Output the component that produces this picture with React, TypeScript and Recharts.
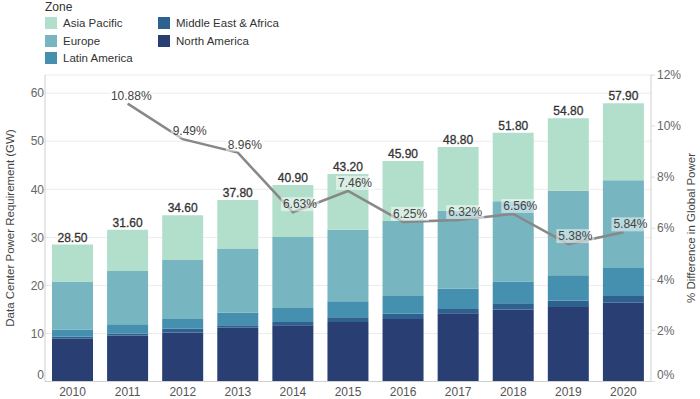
import React from "react";
import {
  Bar,
  CartesianGrid,
  ComposedChart,
  LabelList,
  Line,
  XAxis,
  YAxis,
} from "recharts";

const years = ["2010", "2011", "2012", "2013", "2014", "2015", "2016", "2017", "2018", "2019", "2020"];
const northAmerica = [8.9, 9.6, 10.2, 11.2, 11.7, 12.4, 13.0, 14.2, 15.0, 15.5, 16.4];
const middleEastAfrica = [0.4, 0.4, 0.8, 0.5, 0.7, 1.0, 1.1, 0.9, 1.3, 1.3, 1.4];
const latinAmerica = [1.5, 1.9, 2.0, 2.6, 2.9, 3.3, 3.7, 4.2, 4.5, 5.3, 5.8];
const europe = [10.0, 11.1, 12.3, 13.3, 14.8, 14.9, 15.7, 16.3, 16.7, 17.6, 18.3];
const asiaPacific = [7.7, 8.6, 9.3, 10.2, 10.8, 11.6, 12.4, 13.2, 14.3, 15.1, 16.0];
const totals = [28.5, 31.6, 34.6, 37.8, 40.9, 43.2, 45.9, 48.8, 51.8, 54.8, 57.9];
const pctDiff: (number | null)[] = [null, 10.88, 9.49, 8.96, 6.63, 7.46, 6.25, 6.32, 6.56, 5.38, 5.84];

const gwTicks = [0, 10, 20, 30, 40, 50, 60];
const pctTicks = [0, 2, 4, 6, 8, 10, 12];

const COLORS = {
  asia: "#b2dfcc",
  europe: "#77b5c1",
  latam: "#4590ae",
  mea: "#2f6190",
  na: "#293f73",
};

const FONT = '"Liberation Sans", Arial, sans-serif';

const rows = years.map((year, i) => ({
  year,
  na: northAmerica[i],
  mea: middleEastAfrica[i],
  latam: latinAmerica[i],
  europe: europe[i],
  asia: asiaPacific[i],
  total: totals[i],
  pct: pctDiff[i],
}));

const legendItems = [
  { label: "Asia Pacific", color: COLORS.asia },
  { label: "Europe", color: COLORS.europe },
  { label: "Latin America", color: COLORS.latam },
  { label: "Middle East & Africa", color: COLORS.mea },
  { label: "North America", color: COLORS.na },
];

function LeftTick({ x, y, payload }: any) {
  return (
    <text x={x} y={y} dx={6} dy={payload.value === 0 ? "-0.2em" : "0.35em"} textAnchor="end" fontSize={12} fill="#666">
      {payload.value}
    </text>
  );
}

function RightTick({ x, y, payload }: any) {
  return (
    <text x={x} y={y} dy={payload.value === 0 ? "-0.2em" : "0.35em"} textAnchor="start" fontSize={12} fill="#666">
      {payload.value}%
    </text>
  );
}

function YearTick({ x, y, payload }: any) {
  return (
    <text x={x} y={y} dy="0.35em" textAnchor="middle" fontSize={12} fill="#555">
      {payload.value}
    </text>
  );
}

function TotalLabel({ x, y, width, value }: any) {
  return (
    <text
      x={x + width / 2}
      y={y - 3}
      textAnchor="middle"
      fontSize={12}
      fill="#333"
      stroke="#333"
      strokeWidth={0.3}
    >
      {Number(value).toFixed(2)}
    </text>
  );
}

function PctLabel({ x, y, value }: any) {
  if (value == null) return null;
  const text = `${Number(value).toFixed(2)}%`;
  const w = (text.length - 2) * 6.67 + 3.33 + 10.67;
  const right = x + 24;
  return (
    <g>
      <rect x={right - w - 2} y={y - 15} width={w + 4} height={14} fill="#fff" fillOpacity={0.5} />
      <text x={right} y={y - 4} textAnchor="end" fontSize={12} fill="#444">
        {text}
      </text>
    </g>
  );
}

function AxisTitle({ viewBox, value, dx }: any) {
  const cx = viewBox.x + dx;
  const cy = 228;
  return (
    <text x={cx} y={cy} transform={`rotate(-90 ${cx} ${cy})`} textAnchor="middle" dy="0.35em" fontSize={11.5} fill="#444">
      {value}
    </text>
  );
}

function ZoneLegend() {
  return (
    <div style={{ position: "absolute", left: 45, top: 0, fontSize: 11.5, color: "#333" }}>
      <div style={{ position: "absolute", left: 0, top: 0, fontSize: 12, color: "#333", whiteSpace: "nowrap" }}>Zone</div>
      {legendItems.map((item, i) => {
        const col = i < 3 ? 0 : 1;
        const row = i < 3 ? i : i - 3;
        return (
          <div
            key={item.label}
            style={{
              position: "absolute",
              left: col * 113,
              top: 17 + row * 17.6,
              display: "flex",
              alignItems: "center",
              whiteSpace: "nowrap",
            }}
          >
            <span style={{ display: "inline-block", width: 12, height: 12, background: item.color, marginRight: 6 }} />
            <span style={{ lineHeight: "12px" }}>{item.label}</span>
          </div>
        );
      })}
    </div>
  );
}

export default function App() {
  return (
    <div style={{ position: "absolute", left: 0, top: 0, width: 700, height: 399, fontFamily: FONT, background: "#fff" }}>
      <ZoneLegend />
      <ComposedChart
        width={700}
        height={399}
        data={rows}
        margin={{ top: 75, right: 4, bottom: 0, left: 15 }}
        barSize={41}
        style={{ fontFamily: FONT }}
      >
        <CartesianGrid vertical={false} stroke="#ececec" />
        <XAxis
          dataKey="year"
          tick={<YearTick />}
          tickLine={false}
          axisLine={{ stroke: "#cfcfcf" }}
          height={17.5}
          tickMargin={4}
          interval={0}
        />
        <XAxis xAxisId="top" orientation="top" dataKey="year" tick={false} tickLine={false} axisLine={{ stroke: "#cfcfcf" }} height={0} />
        <YAxis
          width={30}
          domain={[0, 63.8]}
          ticks={gwTicks}
          tick={<LeftTick />}
          tickLine={false}
          tickMargin={1}
          axisLine={{ stroke: "#cfcfcf" }}
          allowDataOverflow
          label={<AxisTitle value="Data Center Power Requirement (GW)" dx={-5} />}
        />
        <YAxis
          yAxisId="right"
          orientation="right"
          width={45}
          domain={[0, 12]}
          ticks={pctTicks}
          tick={<RightTick />}
          tickSize={4}
          tickLine={{ stroke: "#dcdcdc" }}
          tickMargin={2}
          axisLine={{ stroke: "#cfcfcf" }}
          label={<AxisTitle value="% Difference in Global Power" dx={40} />}
        />
        <Bar dataKey="na" stackId="zone" fill={COLORS.na} isAnimationActive={false} />
        <Bar dataKey="mea" stackId="zone" fill={COLORS.mea} isAnimationActive={false} />
        <Bar dataKey="latam" stackId="zone" fill={COLORS.latam} isAnimationActive={false} />
        <Bar dataKey="europe" stackId="zone" fill={COLORS.europe} isAnimationActive={false} />
        <Bar dataKey="asia" stackId="zone" fill={COLORS.asia} isAnimationActive={false}>
          <LabelList dataKey="total" content={<TotalLabel />} />
        </Bar>
        <Line
          yAxisId="right"
          dataKey="pct"
          stroke="#888"
          strokeWidth={2.5}
          dot={false}
          isAnimationActive={false}
        >
          <LabelList dataKey="pct" content={<PctLabel />} />
        </Line>
      </ComposedChart>
    </div>
  );
}
